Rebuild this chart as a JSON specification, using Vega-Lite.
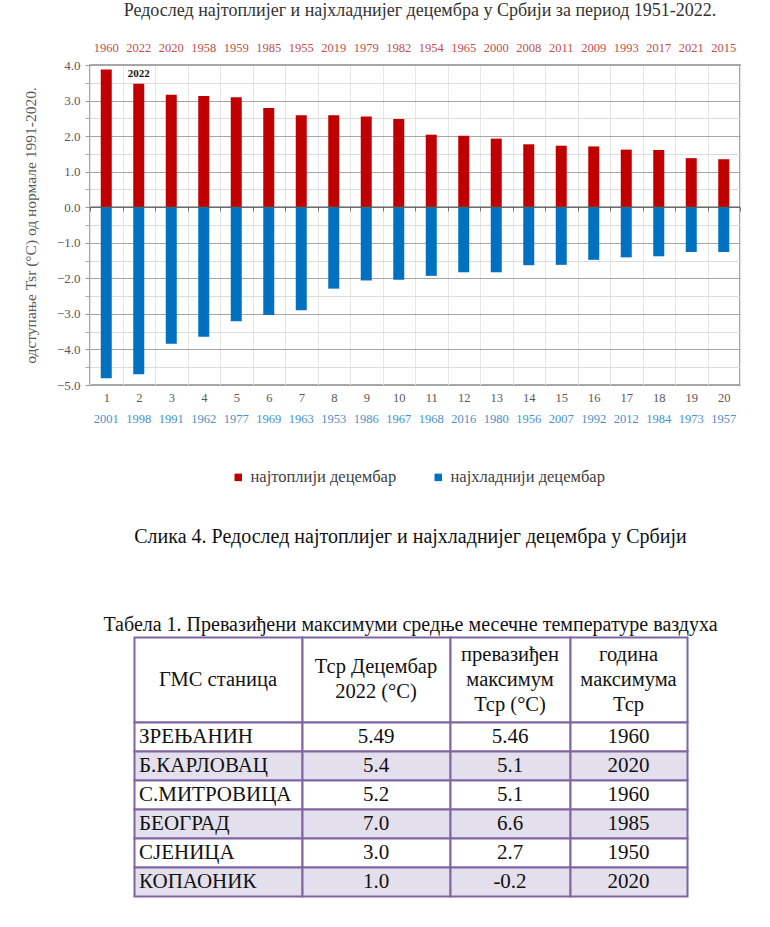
{
  "$schema": "https://vega.github.io/schema/vega-lite/v6.json",
  "padding": {"left": 22, "top": 1, "right": 0, "bottom": 0},
  "background": "white",
  "spacing": 39,
  "config": {"font": "Liberation Serif", "view": {"stroke": null}},
  "resolve": {"scale": {"color": "independent"}, "legend": {"color": "independent"}},
  "datasets": {
    "ranking": [
      {"rank": 1, "warm_year": 1960, "warm": 3.87, "cold_year": 2001, "cold": -4.81},
      {"rank": 2, "warm_year": 2022, "warm": 3.47, "cold_year": 1998, "cold": -4.70},
      {"rank": 3, "warm_year": 2020, "warm": 3.16, "cold_year": 1991, "cold": -3.84},
      {"rank": 4, "warm_year": 1958, "warm": 3.13, "cold_year": 1962, "cold": -3.64},
      {"rank": 5, "warm_year": 1959, "warm": 3.09, "cold_year": 1977, "cold": -3.21},
      {"rank": 6, "warm_year": 1985, "warm": 2.79, "cold_year": 1969, "cold": -3.03},
      {"rank": 7, "warm_year": 1955, "warm": 2.59, "cold_year": 1963, "cold": -2.90},
      {"rank": 8, "warm_year": 2019, "warm": 2.59, "cold_year": 1953, "cold": -2.29},
      {"rank": 9, "warm_year": 1979, "warm": 2.55, "cold_year": 1986, "cold": -2.06},
      {"rank": 10, "warm_year": 1982, "warm": 2.48, "cold_year": 1967, "cold": -2.04},
      {"rank": 11, "warm_year": 1954, "warm": 2.04, "cold_year": 1968, "cold": -1.93},
      {"rank": 12, "warm_year": 1965, "warm": 2.01, "cold_year": 2016, "cold": -1.83},
      {"rank": 13, "warm_year": 2000, "warm": 1.93, "cold_year": 1980, "cold": -1.83},
      {"rank": 14, "warm_year": 2008, "warm": 1.77, "cold_year": 1956, "cold": -1.63},
      {"rank": 15, "warm_year": 2011, "warm": 1.73, "cold_year": 2007, "cold": -1.62},
      {"rank": 16, "warm_year": 2009, "warm": 1.71, "cold_year": 1992, "cold": -1.48},
      {"rank": 17, "warm_year": 1993, "warm": 1.62, "cold_year": 2012, "cold": -1.41},
      {"rank": 18, "warm_year": 2017, "warm": 1.61, "cold_year": 1984, "cold": -1.38},
      {"rank": 19, "warm_year": 2021, "warm": 1.38, "cold_year": 1973, "cold": -1.26},
      {"rank": 20, "warm_year": 2015, "warm": 1.35, "cold_year": 1957, "cold": -1.26}
    ],
    "table": [
      {"r": 0, "c": 0, "t": "ГМС станица"},
      {"r": 0, "c": 1, "t": "Тср Децембар\n2022 (°C)"},
      {"r": 0, "c": 2, "t": "превазиђен\nмаксимум\nТср (°C)"},
      {"r": 0, "c": 3, "t": "година\nмаксимума\nТср"},
      {"r": 1, "c": 0, "t": "ЗРЕЊАНИН"},
      {"r": 1, "c": 1, "t": "5.49"},
      {"r": 1, "c": 2, "t": "5.46"},
      {"r": 1, "c": 3, "t": "1960"},
      {"r": 2, "c": 0, "t": "Б.КАРЛОВАЦ"},
      {"r": 2, "c": 1, "t": "5.4"},
      {"r": 2, "c": 2, "t": "5.1"},
      {"r": 2, "c": 3, "t": "2020"},
      {"r": 3, "c": 0, "t": "С.МИТРОВИЦА"},
      {"r": 3, "c": 1, "t": "5.2"},
      {"r": 3, "c": 2, "t": "5.1"},
      {"r": 3, "c": 3, "t": "1960"},
      {"r": 4, "c": 0, "t": "БЕОГРАД"},
      {"r": 4, "c": 1, "t": "7.0"},
      {"r": 4, "c": 2, "t": "6.6"},
      {"r": 4, "c": 3, "t": "1985"},
      {"r": 5, "c": 0, "t": "СЈЕНИЦА"},
      {"r": 5, "c": 1, "t": "3.0"},
      {"r": 5, "c": 2, "t": "2.7"},
      {"r": 5, "c": 3, "t": "1950"},
      {"r": 6, "c": 0, "t": "КОПАОНИК"},
      {"r": 6, "c": 1, "t": "1.0"},
      {"r": 6, "c": 2, "t": "-0.2"},
      {"r": 6, "c": 3, "t": "2020"}
    ]
  },
  "vconcat": [
    {
      "width": 650,
      "height": 320,
      "title": {"text": "Редослед најтоплијег и најхладнијег децембра у Србији за период 1951-2022.", "fontSize": 18, "fontWeight": "normal", "color": "#333333", "offset": 21, "dx": 5, "anchor": "middle"},
      "view": {"stroke": "#8a8a8a", "strokeWidth": 1.5},
      "data": {"name": "ranking"},
      "resolve": {"scale": {"x": "independent"}, "axis": {"x": "independent", "y": "independent"}},
      "layer": [
        {
          "mark": {"type": "text", "baseline": "bottom", "dy": -5, "fontWeight": "bold", "fontSize": 11, "color": "#111111"},
          "encoding": {
            "x": {"field": "rank", "type": "ordinal", "sort": "ascending",
                  "axis": {"orient": "bottom", "title": null, "labelAngle": 0, "ticks": false, "domain": false, "grid": true, "tickBand": "extent", "gridColor": "#e6e6e6", "labelPadding": 6, "labelColor": "#595959", "labelFontSize": 12.5}},
            "y": {"field": "warm", "type": "quantitative", "scale": {"domain": [-5, 4], "nice": false},
                  "axis": {"orient": "left", "values": [-4.5, -3.5, -2.5, -1.5, -0.5, 0.5, 1.5, 2.5, 3.5], "labels": false, "title": null, "grid": true, "gridColor": "#dcdcdc", "domain": false, "tickSize": 5, "tickColor": "#aaaaaa"}},
            "text": {"condition": {"test": "datum.rank == 2", "field": "warm_year", "type": "nominal"}, "value": ""}
          }
        },
        {
          "mark": {"type": "text", "opacity": 0},
          "encoding": {
            "x": {"field": "rank", "type": "ordinal", "sort": "ascending",
                  "axis": {"orient": "bottom", "offset": -178, "title": null, "labels": false, "domain": false, "grid": false, "ticks": true, "tickBand": "extent", "tickSize": 4, "tickColor": "#777777"}},
            "y": {"field": "warm", "type": "quantitative", "axis": null},
            "text": {"value": ""}
          }
        },
        {
          "mark": {"type": "bar", "size": 11},
          "encoding": {
            "x": {"field": "warm_year", "type": "nominal", "sort": {"field": "rank", "op": "min"},
                  "axis": {"orient": "top", "title": null, "labelAngle": 0, "ticks": false, "domain": false, "grid": false, "labelPadding": 11, "labelColor": "#C0504D", "labelFontSize": 12.5}},
            "y": {"field": "warm", "type": "quantitative", "stack": null, "scale": {"domain": [-5, 4], "nice": false},
                  "axis": {"orient": "left", "title": "одступање Tsr (°C) од  нормале 1991-2020.", "values": [-5, -4, -3, -2, -1, 0, 1, 2, 3, 4], "format": ".1f", "grid": true, "gridColor": "#a6a6a6", "domain": false, "tickSize": 5, "tickColor": "#999999", "labelFontSize": 13, "labelColor": "#595959", "labelPadding": 5, "titleFontSize": 15.5, "titleFontWeight": "normal", "titleColor": "#595959", "titlePadding": 18}},
            "color": {"datum": "најтоплији децембар", "type": "nominal",
                      "scale": {"domain": ["најтоплији децембар", "најхладнији децембар"], "range": ["#C00000", "#0070C0"]},
                      "legend": {"orient": "none", "legendX": 140, "legendY": 404, "direction": "horizontal", "title": null, "symbolType": "square", "symbolSize": 56, "symbolStrokeWidth": 0, "labelFontSize": 16.5, "labelColor": "#404040", "columnPadding": 33, "labelOffset": 4}}
          }
        },
        {
          "mark": {"type": "bar", "size": 11},
          "encoding": {
            "x": {"field": "cold_year", "type": "nominal", "sort": {"field": "rank", "op": "min"},
                  "axis": {"orient": "bottom", "title": null, "labelAngle": 0, "ticks": false, "domain": false, "grid": false, "labelPadding": 27, "labelColor": "#4A90C8", "labelFontSize": 12.5}},
            "y": {"field": "cold", "type": "quantitative", "stack": null, "axis": null},
            "color": {"datum": "најхладнији децембар", "type": "nominal"}
          }
        },
        {
          "data": {"values": [{}]},
          "mark": {"type": "rule", "color": "#595959", "strokeWidth": 1.3},
          "encoding": {"y": {"datum": 0, "type": "quantitative", "axis": null}}
        }
      ]
    },
    {
      "width": 597,
      "height": 259,
      "title": {"text": "Слика 4. Редослед најтоплијег и најхладнијег децембра у Србији", "subtitle": "Табела 1. Превазиђени максимуми средње месечне температуре ваздуха", "fontSize": 20, "subtitleFontSize": 20, "fontWeight": "normal", "color": "#111111", "subtitleColor": "#111111", "subtitleFont": "Liberation Serif", "subtitlePadding": 68, "anchor": "middle", "dx": 22, "offset": 2},
      "data": {"name": "table"},
      "layer": [
        {
          "mark": {"type": "rect", "stroke": "#8064A2", "strokeWidth": 2},
          "encoding": {
            "x": {"field": "c", "type": "quantitative", "bin": {"step": 1, "extent": [0, 4]}, "scale": {"domain": [0, 1, 2, 3, 4], "range": [44, 212, 360, 480, 597], "nice": false, "zero": false}, "axis": null},
            "y": {"field": "r", "type": "quantitative", "bin": {"step": 1, "extent": [0, 7]}, "scale": {"domain": [0, 1, 2, 3, 4, 5, 6, 7], "range": [0, 85, 114, 143, 172, 201, 230, 259], "nice": false, "zero": false}, "axis": null},
            "fill": {"condition": {"test": "datum.r > 0 && datum.r % 2 == 0", "value": "#E4DFEC"}, "value": "#ffffff"}
          }
        },
        {
          "transform": [{"filter": "datum.r == 0 && datum.c == 0"}],
          "mark": {"type": "text", "align": "center", "baseline": "middle", "fontSize": 20.5, "color": "#111111"},
          "encoding": {
            "x": {"field": "c", "type": "quantitative", "bin": {"step": 1, "extent": [0, 4]}},
            "y": {"field": "r", "type": "quantitative", "bin": {"step": 1, "extent": [0, 7]}},
            "text": {"field": "t", "type": "nominal"}
          }
        },
        {
          "transform": [{"filter": "datum.r == 0 && datum.c == 1"}],
          "mark": {"type": "text", "align": "center", "baseline": "middle", "lineBreak": "\n", "lineHeight": 25, "dy": -12.5, "fontSize": 20.5, "color": "#111111"},
          "encoding": {
            "x": {"field": "c", "type": "quantitative", "bin": {"step": 1, "extent": [0, 4]}},
            "y": {"field": "r", "type": "quantitative", "bin": {"step": 1, "extent": [0, 7]}},
            "text": {"field": "t", "type": "nominal"}
          }
        },
        {
          "transform": [{"filter": "datum.r == 0 && datum.c >= 2"}],
          "mark": {"type": "text", "align": "center", "baseline": "middle", "lineBreak": "\n", "lineHeight": 25, "dy": -25, "fontSize": 20.5, "color": "#111111"},
          "encoding": {
            "x": {"field": "c", "type": "quantitative", "bin": {"step": 1, "extent": [0, 4]}},
            "y": {"field": "r", "type": "quantitative", "bin": {"step": 1, "extent": [0, 7]}},
            "text": {"field": "t", "type": "nominal"}
          }
        },
        {
          "transform": [{"filter": "datum.c > 0 && datum.r > 0"}],
          "mark": {"type": "text", "align": "center", "baseline": "middle", "fontSize": 21, "color": "#111111"},
          "encoding": {
            "x": {"field": "c", "type": "quantitative", "bin": {"step": 1, "extent": [0, 4]}},
            "y": {"field": "r", "type": "quantitative", "bin": {"step": 1, "extent": [0, 7]}},
            "text": {"field": "t", "type": "nominal"}
          }
        },
        {
          "transform": [{"filter": "datum.c == 0 && datum.r > 0"}],
          "mark": {"type": "text", "align": "left", "baseline": "middle", "dx": 5, "fontSize": 21, "color": "#111111"},
          "encoding": {
            "x": {"field": "c", "type": "quantitative", "bin": {"step": 1, "extent": [0, 4]}, "bandPosition": 0},
            "y": {"field": "r", "type": "quantitative", "bin": {"step": 1, "extent": [0, 7]}},
            "text": {"field": "t", "type": "nominal"}
          }
        }
      ]
    }
  ]
}
